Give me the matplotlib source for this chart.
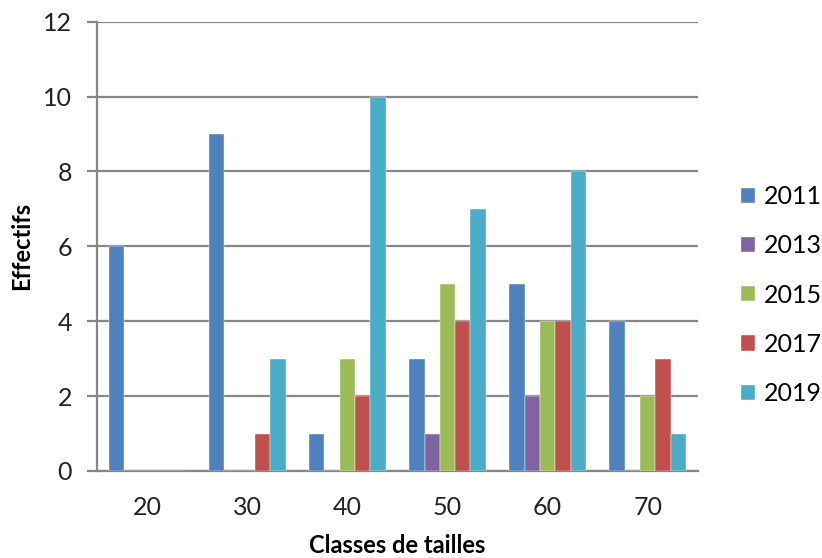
import matplotlib.pyplot as plt
import numpy as np

plt.rcParams['font.family'] = ['Lato', 'DejaVu Sans']

# classes de tailles and effectifs per year
classes = ['20', '30', '40', '50', '60', '70']
years = ['2011', '2013', '2015', '2017', '2019']
eff_2011 = [6, 9, 1, 3, 5, 4]
eff_2013 = [0, 0, 0, 1, 2, 0]
eff_2015 = [0, 0, 3, 5, 4, 2]
eff_2017 = [0, 1, 2, 4, 4, 3]
eff_2019 = [0, 3, 10, 7, 8, 1]
colors = ['#4F81BD', '#8064A2', '#9BBB59', '#C0504D', '#4BACC6']

series = [eff_2011, eff_2013, eff_2015, eff_2017, eff_2019]

fig = plt.figure(figsize=(8.22, 5.58), dpi=100)
ax = fig.add_axes([0.118, 0.156, 0.731, 0.805])

x = np.arange(len(classes))
w = 0.153
for i, (vals, yr, c) in enumerate(zip(series, years, colors)):
    ax.bar(x + (i - 2) * w, vals, width=w, color=c, label=yr,
           edgecolor='white', linewidth=0.3, zorder=3)

grid_col = '#878787'
ax.set_xlim(-0.5, len(classes) - 0.5)
ax.set_ylim(0, 12)
ax.set_yticks(range(0, 13, 2))
ax.yaxis.grid(True, color=grid_col, linewidth=1.6, zorder=0)
ax.set_xticks(x)
ax.set_xticklabels(classes)
ax.tick_params(axis='x', length=0, pad=18, labelsize=18, labelcolor='#222222')
ax.tick_params(axis='y', length=7, width=1.6, color=grid_col, pad=11,
               labelsize=18, labelcolor='#222222')

for s in ['top', 'right']:
    ax.spines[s].set_visible(False)
for s in ['left', 'bottom']:
    ax.spines[s].set_color(grid_col)
    ax.spines[s].set_linewidth(1.6)

ax.set_xlabel('Classes de tailles', fontsize=17, fontweight='bold', labelpad=11)
ax.set_ylabel('Effectifs', fontsize=17, fontweight='bold', labelpad=7)

ax.legend(loc='center left', bbox_to_anchor=(0.902, 0.471),
          bbox_transform=fig.transFigure, frameon=False, fontsize=18,
          handlelength=0.56, handleheight=0.56, handletextpad=0.35,
          labelspacing=1.05, borderaxespad=0, borderpad=0)

fig.savefig('out.png', dpi=100)
